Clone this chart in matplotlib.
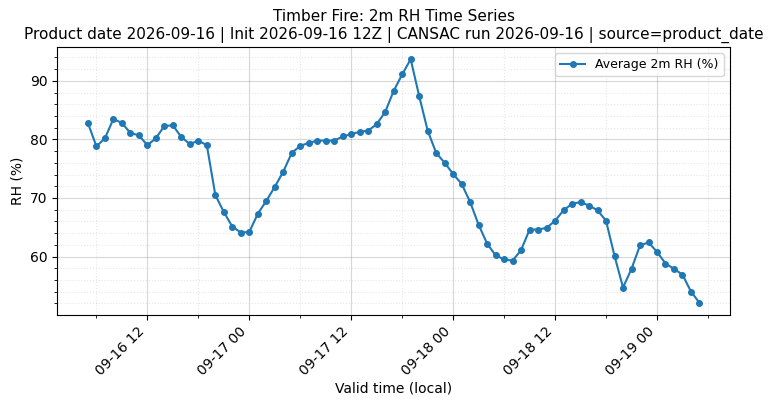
import matplotlib
matplotlib.use("Agg")
import matplotlib.pyplot as plt
import matplotlib.dates as mdates
import numpy as np
import pandas as pd

# hourly average 2m RH, valid times 2026-09-16 05:00 .. 2026-09-19 05:00 (local)
start_time = "2026-09-16 05:00"
rh = [
    82.8, 78.8, 80.2, 83.5, 82.8, 81.1, 80.7, 79.0, 80.2, 82.3, 82.4, 80.4,
    79.2, 79.8, 79.0, 70.5, 67.6, 65.1, 64.1, 64.2, 67.3, 69.5, 71.9, 74.5,
    77.7, 78.9, 79.4, 79.8, 79.8, 79.8, 80.5, 80.9, 81.3, 81.5, 82.6, 84.7,
    88.3, 91.1, 93.7, 87.4, 81.5, 77.7, 76.0, 74.1, 72.4, 69.3, 65.4, 62.2,
    60.2, 59.5, 59.3, 61.1, 64.6, 64.6, 64.9, 66.1, 67.9, 69.0, 69.3, 68.7,
    67.9, 66.1, 60.1, 54.7, 57.9, 61.9, 62.4, 60.8, 58.8, 57.9, 56.9, 54.0,
    52.1,
]
times = pd.date_range(start_time, periods=len(rh), freq="h")

fig, ax = plt.subplots(figsize=(7.75, 4.09), dpi=100)
ax.plot(times, rh, marker="o", markersize=4, color="#1f77b4", label="Average 2m RH (%)")

ax.xaxis.set_major_locator(mdates.HourLocator(byhour=[0, 12]))
ax.xaxis.set_minor_locator(mdates.HourLocator(byhour=[6, 18]))
ax.xaxis.set_major_formatter(mdates.DateFormatter("%m-%d %H"))
ax.yaxis.set_minor_locator(matplotlib.ticker.MultipleLocator(2))
plt.setp(ax.get_xticklabels(), rotation=45, ha="right")

ax.grid(True, which="major", alpha=0.5)
ax.grid(True, which="minor", linestyle=":", alpha=0.3)

ax.set_xlabel("Valid time (local)", labelpad=2)
ax.set_ylabel("RH (%)")
ax.set_title("Timber Fire: 2m RH Time Series\n"
             "Product date 2026-09-16 | Init 2026-09-16 12Z | CANSAC run 2026-09-16 | source=product_date",
             fontsize=11)
ax.legend(loc="upper right", fontsize=9)

fig.subplots_adjust(left=0.074, right=0.942, top=0.885, bottom=0.23)
fig.savefig("out.png", dpi=100)
